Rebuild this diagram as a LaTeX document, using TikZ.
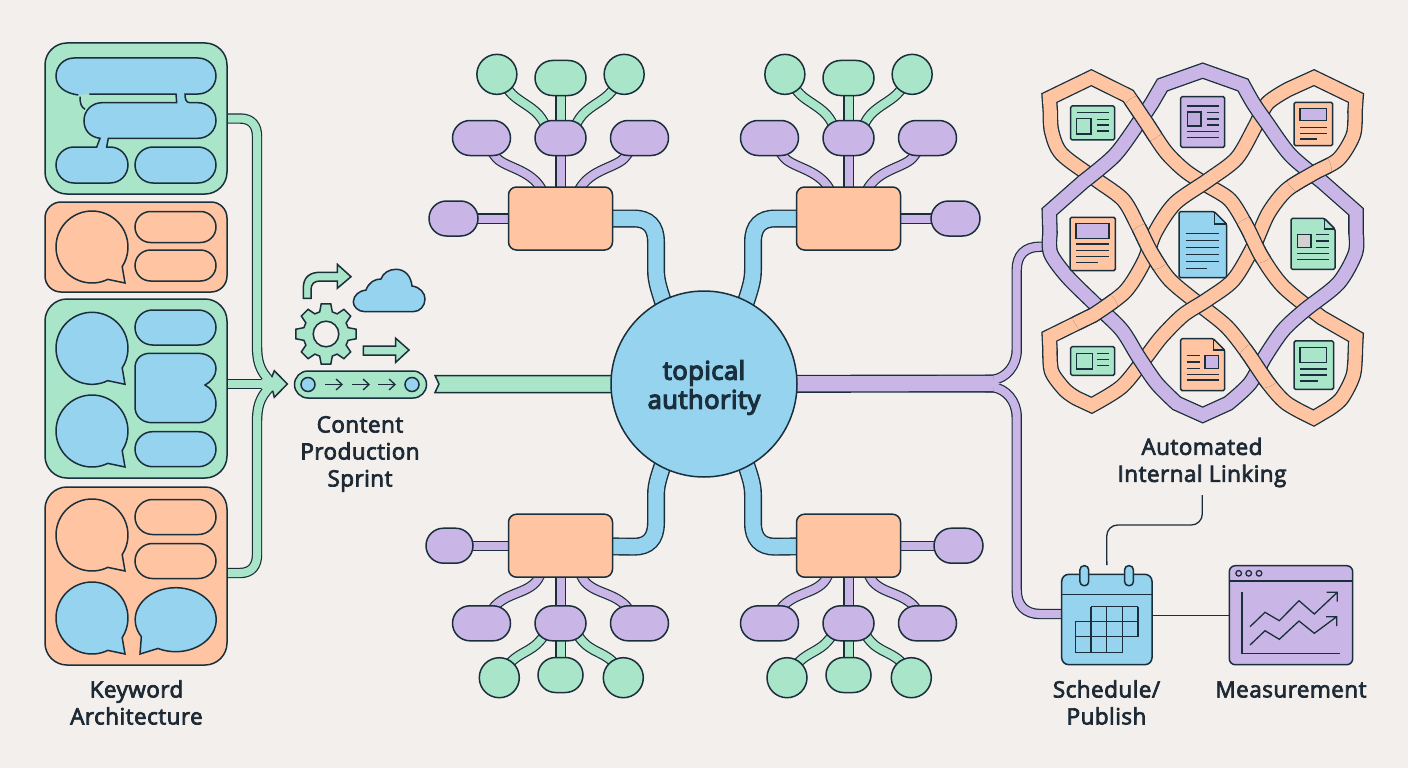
\documentclass[tikz,border=0pt]{standalone}
\usepackage{fontspec}
\setmainfont[FakeBold=3.2,LetterSpace=2]{Open Sans}
\newfontfamily\corefont[FakeBold=5,LetterSpace=2]{Open Sans}
\usetikzlibrary{arrows.meta,shapes.misc}

\definecolor{paper}{HTML}{F2EFEC}
\definecolor{ink}{HTML}{1A2F3B}
\definecolor{inktext}{HTML}{1D2A35}
\definecolor{mint}{HTML}{A9E6C9}
\definecolor{sky}{HTML}{95D3EF}
\definecolor{peach}{HTML}{FFC4A2}
\definecolor{lilac}{HTML}{C9B6E6}
\definecolor{deeplilac}{HTML}{BFABDD}
\definecolor{smoke}{HTML}{D3D0CF}

\pgfdeclarelayer{backdrop}
\pgfdeclarelayer{tubes}
\pgfsetlayers{backdrop,tubes,main}

% speech bubble: x, y, fill
\newcommand{\talkbubble}[3]{
  \draw[outline, fill=#3] (#1,#2) ++(64:36) arc[start angle=64, end angle=393, radius=36]
    -- (#1+33,#2+36) -- cycle;
}
% a band lies on top at one crossing: band, x, y
\newcommand{\overcross}[3]{
  \begin{scope}
    \clip (#2,#3) circle (70);
    \draw[ribbon=peach, #1];
  \end{scope}
}

\tikzset{
  outline/.style={draw=ink, line width=1.5pt},
  tube/.style={draw=ink, line width=1.2pt, double=#1, double distance=8pt},
  wide tube/.style={tube=#1, line width=1.4pt, double distance=15.2pt},
  ribbon/.style={draw=ink, line width=1.3pt, double=#1, double distance=13pt},
  sheet/.style={outline, rounded corners=1.5pt},
  rule/.style={draw=ink, line width=1.3pt},
  panel node/.style={outline, rectangle, inner sep=0pt, minimum width=182pt, rounded corners=#1},
  pill node/.style={outline, rounded rectangle, inner sep=0pt, minimum height=35pt, fill=#1},
  leaf node/.style={pill node=lilac, minimum width=58pt},
  hub node/.style={outline, fill=peach, rectangle, rounded corners=8pt, inner sep=0pt, minimum width=104pt, minimum height=63pt},
  ball node/.style={outline, circle, fill=mint, inner sep=0pt, minimum size=40pt},
  ring node/.style={outline, rectangle, rounded corners=4pt, fill=sky, inner sep=0pt, minimum width=8.7pt, minimum height=20pt},
  dot node/.style={rule, circle, inner sep=0pt, minimum size=5.6pt},
  caption node/.style={align=center, text=inktext},
  % the three closed bands of the link mesh
  band one/.style={insert path={(214,83) -- (88,144) -- plot[smooth] coordinates {(91,185) (95,245) (125,312) (230,390) (310,450) (355,530) (395,610) (450,690) (540,765) (620,830) (680,905) (745,1000) (800,1060) (881,1104)}
    -- plot[smooth] coordinates {(925,1078) (965,1045) (1000,975) (1006,900)} -- (1008,862)
    -- plot[smooth] coordinates {(905,803) (790,710) (725,620) (680,530) (630,450) (560,405) (495,362) (437,305) (380,220) (325,138)} -- cycle}},
  band two/.style={insert path={(882,83) -- (1008,144) -- plot[smooth] coordinates {(1005,185) (1000,255) (955,328) (880,370) (800,420) (745,490) (700,590) (640,690) (560,750) (490,795) (425,860) (375,925) (305,1010) (215,1066)}
    -- plot[smooth] coordinates {(170,1045) (135,1020) (95,965) (90,900)} -- (88,860)
    -- plot[smooth] coordinates {(220,795) (315,725) (372,635) (405,548) (465,460) (565,390) (650,325) (705,230) (742,160) (805,118)} -- cycle}},
  band three/.style={insert path={(548,62) -- (427,105) -- plot[smooth] coordinates {(395,160) (358,215) (285,315) (190,395)} -- (88,485)
    -- plot[smooth] coordinates {(90,550) (92,610) (142,680) (228,765) (305,840) (355,920) (410,1000) (470,1060)} -- (548,1095)
    -- plot[smooth] coordinates {(625,1060) (690,1000) (735,920) (790,840) (855,780) (955,700) (1006,610) (1008,550)} -- (1008,485)
    -- plot[smooth] coordinates {(906,395) (811,315) (738,215) (700,160) (669,105)} -- cycle}}
}

\begin{document}
\begin{tikzpicture}[x=1pt, y=-1pt]
  \tikzstyle{every node}=[font=\fontsize{22.5}{27}\selectfont]

  \useasboundingbox (0,0) rectangle (1408,768);
  \begin{pgfonlayer}{backdrop}
    \fill[paper] (0,0) rectangle (1408,768);
  \end{pgfonlayer}

  % keyword panels
  \node[panel node=22pt, fill=mint, minimum height=151pt] (panela) at (136,118.5) {};
  \node[panel node=16pt, fill=peach, minimum height=90pt] (panelb) at (136,247) {};
  \node[panel node=22pt, fill=mint, minimum height=179pt] (panelc) at (136,388.5) {};
  \node[panel node=22pt, fill=peach, minimum height=178pt] (paneld) at (136,576) {};

  \draw[outline, fill=sky] (89.3,94) -- (176,94) -- (176.7,102.7) -- (102,102.7)
    .. controls (92,102.7) and (84,110.5) .. (84,120.5) .. controls (84,130.5) and (90,137) .. (100,138.3)
    -- (96.7,147) -- (74,147) .. controls (64,147) and (56,155) .. (56,165) .. controls (56,175) and (64,183) .. (74,183)
    -- (110,183) .. controls (120,183) and (128,175) .. (128,165) .. controls (128,155) and (120,147) .. (110,147)
    -- (106.7,147) -- (108.3,138.3) -- (198,138.3) .. controls (208,138.3) and (216,130.5) .. (216,120.5)
    .. controls (216,110.5) and (208,102.7) .. (198,102.7) -- (190,102.7) .. controls (186,102.7) and (185,99) .. (185,94)
    -- (198,94) .. controls (208,94) and (216,86) .. (216,76) .. controls (216,66) and (208,58) .. (198,58)
    -- (74,58) .. controls (64,58) and (56,66) .. (56,76) .. controls (56,86) and (64,93) .. (78.3,95);
  \draw[outline] (80,96.7) .. controls (80,103) and (81,107) .. (85,109.3);
  \node[pill node=sky, minimum width=81pt, minimum height=36pt] (pilld) at (175.5,165) {};

  \talkbubble{92}{247}{peach}
  \node[pill node=peach, minimum width=81pt, minimum height=31pt] (pille) at (175.5,227) {};
  \node[pill node=peach, minimum width=81pt, minimum height=31pt] (pillf) at (175.5,265.5) {};

  \talkbubble{92}{348.3}{sky}
  \talkbubble{92}{431}{sky}
  \node[pill node=sky, minimum width=81pt] (pillg) at (175.5,327.5) {};
  \draw[outline, fill=sky] (135,368) .. controls (135,359) and (141,353.3) .. (150,353.3) -- (198,353.3)
    .. controls (209,353.3) and (216,360) .. (216,369) .. controls (216,376) and (211,382) .. (205,385)
    .. controls (211,388) and (216,395) .. (216,404) .. controls (216,415) and (208,422.7) .. (198,422.7)
    -- (152,422.7) .. controls (142,422.7) and (135,416) .. (135,407) -- cycle;
  \node[pill node=sky, minimum width=81pt] (pillh) at (175.5,449.2) {};

  \talkbubble{92}{535}{peach}
  \node[pill node=peach, minimum width=81pt] (pilli) at (175.5,517) {};
  \node[pill node=peach, minimum width=81pt] (pillj) at (175.5,561) {};
  \talkbubble{92}{618}{sky}
  \draw[outline, fill=sky] (175.7,619.7) ++(148:40.5 and 32) arc[start angle=148, end angle=476, x radius=40.5, y radius=32]
    -- (140,654) -- cycle;

  \node[caption node] (keywordlabel) at (136.5,702.5) {Keyword\\Architecture};

  % sprint icons
  \node[pill node=mint, minimum width=132pt, minimum height=27pt] (belt) at (360.5,384.5) {};
  \node[outline, circle, fill=sky, inner sep=0pt, minimum size=14pt] (rollera) at (308,384.5) {};
  \node[outline, circle, fill=sky, inner sep=0pt, minimum size=14pt] (rollerb) at (412,384.5) {};
  \foreach \s in {325,352,378}
    \draw[rule, -{Straight Barb[length=6pt,width=11pt]}] (\s,384.5) -- (\s+18,384.5);

  \draw[outline, fill=mint] (303.3,298.3) -- (303.3,288) .. controls (303.3,277) and (310,272.3) .. (320,272.3)
    -- (337.3,272.3) -- (337.3,264.3) -- (351,276.7) -- (337.3,288.3) -- (337.3,281) -- (320,281)
    .. controls (314,281) and (311,284) .. (311,290) -- (311,298.3) -- cycle;
  \draw[outline, fill=sky] (365,311.7) .. controls (358,311.7) and (353.3,306.5) .. (353.3,302)
    .. controls (353.3,295) and (360,290.5) .. (366,290) .. controls (369,282) and (375,279) .. (381,279)
    .. controls (383,273) and (389,269.3) .. (396,269.3) .. controls (405,269.3) and (411,276) .. (412,286)
    .. controls (420,287) and (425,293) .. (425,299) .. controls (425,306) and (420,311.7) .. (413,311.7) -- cycle;
  \draw[outline, fill=mint] (363.3,346) -- (395.7,346) -- (395.7,338.3) -- (409,350) -- (395.7,362.3) -- (395.7,355) -- (363.3,355) -- cycle;
  \begin{scope}[shift={(326,334)}]
    \draw[outline, fill=mint] (-16:23) \foreach \a in {0,45,...,315} { -- (\a-16:23) -- (\a-9:30.5) -- (\a+9:30.5) -- (\a+16:23) } -- cycle;
  \end{scope}
  \node[outline, circle, fill=paper, inner sep=0pt, minimum size=25.6pt] (gearhole) at (326,334) {};

  \node[caption node] (sprintlabel) at (360,454) {Content\\Production\\Sprint};

  % centre
  \node[outline, circle, fill=sky, inner sep=0pt, minimum size=186pt] (core) at (704,384) {};
  \node[align=center, text=ink, font=\fontsize{25.5}{29}\corefont] (corelabel) at (704,387.5) {topical\\authority};

  % north west tree
  \node[hub node] (hubnw) at (560.5,218.5) {};
  \node[leaf node, minimum width=49pt] (nwfar) [node distance=107pt, left of=hubnw] {};
  \node[leaf node, minimum width=51pt] (nwmid) [node distance=80.5pt, above of=hubnw] {};
  \node[leaf node] (nwleft) [node distance=79pt, left of=nwmid] {};
  \node[leaf node] (nwright) [node distance=79pt, right of=nwmid] {};
  \node[pill node=mint, minimum width=51pt] (nwtop) [node distance=60pt, above of=nwmid] {};
  \node[ball node] (nwballa) [node distance=90pt, above left of=nwmid] {};
  \node[ball node] (nwballb) [node distance=90pt, above right of=nwmid] {};

  % north east tree
  \node[hub node] (hubne) at (848.5,218.5) {};
  \node[leaf node, minimum width=49pt] (nefar) [node distance=107pt, right of=hubne] {};
  \node[leaf node, minimum width=51pt] (nemid) [node distance=80.5pt, above of=hubne] {};
  \node[leaf node] (neleft) [node distance=79pt, left of=nemid] {};
  \node[leaf node] (neright) [node distance=79pt, right of=nemid] {};
  \node[pill node=mint, minimum width=51pt] (netop) [node distance=60pt, above of=nemid] {};
  \node[ball node] (neballa) [node distance=90pt, above left of=nemid] {};
  \node[ball node] (neballb) [node distance=90pt, above right of=nemid] {};

  % south west tree
  \node[hub node] (hubsw) at (560.5,545.7) {};
  \node[leaf node, minimum width=47pt] (swfar) [node distance=111pt, left of=hubsw] {};
  \node[leaf node, minimum width=51pt] (swmid) [node distance=77.6pt, below of=hubsw] {};
  \node[leaf node] (swleft) [node distance=79pt, left of=swmid] {};
  \node[leaf node] (swright) [node distance=79pt, right of=swmid] {};
  \node[pill node=mint, minimum width=45pt] (swtop) [node distance=51.7pt, below of=swmid] {};
  \node[ball node] (swballa) at (499.3,677.7) {};
  \node[ball node] (swballb) at (623.3,677.7) {};

  % south east tree
  \node[hub node] (hubse) at (848.5,545.7) {};
  \node[leaf node, minimum width=49pt] (sefar) [node distance=110pt, right of=hubse] {};
  \node[leaf node, minimum width=51pt] (semid) [node distance=77.6pt, below of=hubse] {};
  \node[leaf node] (seleft) [node distance=79pt, left of=semid] {};
  \node[leaf node] (seright) [node distance=79pt, right of=semid] {};
  \node[pill node=mint, minimum width=45pt] (setop) [node distance=51.7pt, below of=semid] {};
  \node[ball node] (seballa) at (787,677.7) {};
  \node[ball node] (seballb) at (911.3,677.7) {};

  % link mesh, coordinates are thirds of a pixel
  \begin{scope}[shift={(1020,50)}, x=0.33333pt, y=-0.33333pt]
    \draw[ribbon=peach, band one];
    \draw[ribbon=peach, band two];
    \draw[ribbon=lilac, band three];
    \overcross{band one}{370}{205}
    \overcross{band one}{722}{945}
    \overcross{band one}{390}{590}
    \overcross{band one}{705}{570}
    \overcross{band two}{865}{365}
    \overcross{band two}{225}{785}

    \draw[sheet, fill=mint] (152,168) rectangle (284,270);
    \draw[rule, fill=mint] (170,205) rectangle (213,252);
    \draw[rule] (170,188) -- (268,188) (230,208) -- (268,208) (230,225) -- (268,225) (230,243) -- (268,243);

    \draw[sheet, fill=lilac] (482,140) rectangle (614,292);
    \draw[rule, fill=deeplilac] (502,186) rectangle (543,228);
    \draw[rule] (502,168) -- (596,168) (560,188) -- (596,188) (560,207) -- (596,207) (560,225) -- (596,225) (502,244) -- (596,244) (502,262) -- (596,262);

    \draw[sheet, fill=peach] (822,157) rectangle (938,287);
    \draw[rule, fill=lilac] (840,176) rectangle (920,212);
    \draw[rule] (840,232) -- (920,232) (840,250) -- (920,250) (840,267) -- (890,267);

    \draw[sheet, fill=peach] (150,502) rectangle (286,662);
    \draw[rule, fill=lilac] (168,520) rectangle (267,565);
    \draw[rule] (168,582) -- (268,582) (168,601) -- (268,601) (168,620) -- (268,620) (168,637) -- (233,637);

    \draw[sheet, fill=sky] (477,485) -- (583,485) -- (620,522) -- (620,683) -- (477,683) -- cycle;
    \draw[rule] (583,485) -- (583,522) -- (620,522);
    \draw[rule] (497,550) -- (598,550) (497,572) -- (598,572) (497,593) -- (598,593) (497,614) -- (598,614) (497,634) -- (598,634) (497,655) -- (560,655);

    \draw[sheet, fill=mint] (813,505) -- (913,505) -- (945,537) -- (945,658) -- (813,658) -- cycle;
    \draw[rule] (913,505) -- (913,537) -- (945,537);
    \draw[rule, fill=smoke] (832,553) rectangle (873,593);
    \draw[rule] (887,553) -- (927,553) (887,573) -- (927,573) (887,592) -- (927,592) (832,610) -- (927,610) (832,628) -- (927,628);

    \draw[sheet, fill=mint] (152,890) rectangle (284,976);
    \draw[rule, fill=mint] (170,910) rectangle (217,957);
    \draw[rule] (232,910) -- (268,910) (232,928) -- (268,928) (232,947) -- (268,947);

    \draw[sheet, fill=peach] (482,866) -- (580,866) -- (614,900) -- (614,1022) -- (482,1022) -- cycle;
    \draw[rule] (580,866) -- (580,900) -- (614,900);
    \draw[rule, fill=lilac] (555,916) rectangle (596,956);
    \draw[rule] (500,917) -- (540,917) (500,936) -- (540,936) (500,955) -- (540,955) (500,973) -- (596,973) (500,990) -- (596,990);

    \draw[sheet, fill=mint] (822,873) rectangle (941,1018);
    \draw[rule, fill=mint] (840,892) rectangle (920,937);
    \draw[rule] (840,957) -- (921,957) (840,975) -- (921,975) (840,993) -- (893,993);
  \end{scope}
  \coordinate (meshin) at (1047,246.7);

  \node[caption node] (linklabel) at (1202,462.5) {Automated\\Internal Linking};

  % calendar and chart
  \node[outline, rectangle, rounded corners=7pt, fill=sky, inner sep=0pt, minimum size=90.3pt] (sched) at (1106.85,619.5) {};
  \draw[rule] (sched.west |- 0,594.3) -- (sched.east |- 0,594.3);
  \node[ring node] (ringa) at (1084.3,575.7) {};
  \node[ring node] (ringb) at (1129,575.7) {};
  \draw[rule] (1091,606.7) -- (1138,606.7) (1075.3,621.7) -- (1138,621.7) (1075.3,636.7) -- (1138,636.7) (1075.3,652.7) -- (1122.3,652.7)
    (1075.3,621.7) -- (1075.3,652.7) (1091,606.7) -- (1091,652.7) (1106.7,606.7) -- (1106.7,652.7) (1122.3,606.7) -- (1122.3,652.7) (1138,606.7) -- (1138,636.7);

  \node[outline, rectangle, rounded corners=6pt, fill=lilac, inner sep=0pt, minimum width=123.4pt, minimum height=99pt] (meas) at (1291,615.2) {};
  \draw[rule] (meas.west |- 0,581) -- (meas.east |- 0,581);
  \node[dot node] (dota) at (1238.7,573.3) {};
  \node[dot node] (dotb) at (1248.7,573.3) {};
  \node[dot node] (dotc) at (1259,573.3) {};
  \draw[draw=ink, line width=1.6pt] (1241.7,591.7) -- (1241.7,653.3) -- (1340,653.3);
  \draw[rule] (1250,626.7) -- (1265,612.3) -- (1279.3,620.7) -- (1299,600.7) -- (1314.3,614) -- (1337.3,592.3)
    (1326.7,592.3) -- (1337.3,592.3) -- (1337.3,601.7);
  \draw[rule] (1250,645) -- (1265,630.7) -- (1279.3,639.3) -- (1299,621) -- (1314.3,633.3) -- (1336.7,616.7)
    (1326,616.7) -- (1336.7,616.7) -- (1336.7,626);

  \node[caption node] (schedlabel) at (1106.5,702.5) {Schedule/\\Publish};
  \node[caption node] (measlabel) at (1291,689.5) {Measurement};

  % thin connectors
  \coordinate (linkfoot) at (1202.3,495);
  \draw[rule, rounded corners=11pt] (linkfoot) -- (1202.3,525) -- (1106.7,525) -- ([yshift=8.5pt]sched.north);
  \draw[rule] (sched.east |- meas.west) -- (meas.west);

  % tubes sit under the nodes
  \coordinate (merge) at (266,384);
  \begin{pgfonlayer}{tubes}
    \draw[tube=mint] (panela.center) -- (240,118.5) .. controls (252,118.5) and (257,126) .. (257,136) -- (257,345) .. controls (257,360) and (259,370) .. (270,381);
    \draw[tube=mint] ([yshift=3pt]paneld.center) -- (240,573) .. controls (252,573) and (257,565) .. (257,555) -- (257,423) .. controls (257,408) and (259,398) .. (270,387);
    \draw[tube=mint] (merge -| panelc.center) -- (merge);

    \draw[outline, fill=mint] (435,375.5) -- (core.center |- 0,375.5) -- (core.center |- 0,392.5) -- (435,392.5) -- (439,384) -- cycle;

    \draw[wide tube=sky] (hubnw.center) -- (634,218.5) .. controls (648,218.5) and (656,226) .. (656,242) -- (656,270) .. controls (656,282) and (660,292) .. (665,308) -- (core.center);
    \draw[wide tube=sky] (hubne.center) -- (775,218.5) .. controls (761,218.5) and (753,226) .. (753,242) -- (753,270) .. controls (753,282) and (749,292) .. (744,308) -- (core.center);
    \draw[wide tube=sky] (hubsw.center) -- (634,546.7) .. controls (648,546.7) and (656,539) .. (656,523) -- (656,495) .. controls (656,483) and (660,474) .. (665,458) -- (core.center);
    \draw[wide tube=sky] (hubse.center) -- (775,546.7) .. controls (761,546.7) and (753,539) .. (753,523) -- (753,495) .. controls (753,483) and (749,474) .. (744,458) -- (core.center);

    \draw[tube=lilac] (nwfar.center) -- (hubnw.center);
    \draw[tube=lilac] (nwmid.center) -- (hubnw.center);
    \draw[tube=lilac] (nwleft.center) -- (495,156) .. controls (503,168) and (530,168) .. (542,190);
    \draw[tube=lilac] (nwright.center) -- (626,156) .. controls (618,168) and (591,168) .. (579,190);
    \draw[tube=mint] (nwtop.center) -- (nwmid.center);
    \draw[tube=mint] (nwballa.center) -- (510,92) .. controls (520,104) and (540,108) .. (546,128);
    \draw[tube=mint] (nwballb.center) -- (611,92) .. controls (601,104) and (581,108) .. (575,128);

    \draw[tube=lilac] (nefar.center) -- (hubne.center);
    \draw[tube=lilac] (nemid.center) -- (hubne.center);
    \draw[tube=lilac] (neleft.center) -- (783,156) .. controls (791,168) and (818,168) .. (830,190);
    \draw[tube=lilac] (neright.center) -- (914,156) .. controls (906,168) and (879,168) .. (867,190);
    \draw[tube=mint] (netop.center) -- (nemid.center);
    \draw[tube=mint] (neballa.center) -- (798,92) .. controls (808,104) and (828,108) .. (834,128);
    \draw[tube=mint] (neballb.center) -- (899,92) .. controls (889,104) and (869,108) .. (863,128);

    \draw[tube=lilac] (swfar.center) -- (hubsw.center);
    \draw[tube=lilac] (swmid.center) -- (hubsw.center);
    \draw[tube=lilac] (swleft.center) -- (495,606) .. controls (510,590) and (535,594) .. (541,572);
    \draw[tube=lilac] (swright.center) -- (626,606) .. controls (611,590) and (586,594) .. (580,572);
    \draw[tube=mint] (swtop.center) -- (swmid.center);
    \draw[tube=mint] (swballa.center) -- (510,663) .. controls (522,650) and (535,652) .. (546,632);
    \draw[tube=mint] (swballb.center) -- (612,661) .. controls (600,650) and (587,652) .. (576,632);

    \draw[tube=lilac] (sefar.center) -- (hubse.center);
    \draw[tube=lilac] (semid.center) -- (hubse.center);
    \draw[tube=lilac] (seleft.center) -- (783,606) .. controls (798,590) and (823,594) .. (829,572);
    \draw[tube=lilac] (seright.center) -- (914,606) .. controls (899,590) and (874,594) .. (868,572);
    \draw[tube=mint] (setop.center) -- (semid.center);
    \draw[tube=mint] (seballa.center) -- (798,663) .. controls (810,650) and (823,652) .. (834,632);
    \draw[tube=mint] (seballb.center) -- (900,661) .. controls (888,650) and (875,652) .. (864,632);

    \draw[tube=lilac] (985,379.8) -- (993,379.8) .. controls (1006,378) and (1016.7,366) .. (1016.7,350) -- (1016.7,270) .. controls (1016.7,255) and (1025,246.7) .. (1040,246.7) -- (meshin);
    \draw[tube=lilac] (985,387.2) -- (993,387.2) .. controls (1006,389) and (1016.7,401) .. (1016.7,417) -- (1016.7,590) .. controls (1016.7,605) and (1025,614) .. (1040,614) -- ([yshift=5.5pt]sched.center);
    \draw[wide tube=lilac] (core.center) -- (993,383.5);
    \fill[lilac] (989,377) -- (1000,383.5) -- (989,390) -- cycle;
  \end{pgfonlayer}

  % head of the three merged tubes
  \fill[mint] (261.7,379.3) -- (271.7,377.3) -- (274.3,370.7) -- (287.3,384) -- (274.3,397.3) -- (272.7,390.7) -- (261.7,389) -- cycle;
  \draw[outline] (271.7,377.3) -- (274.3,370.7) -- (287.3,384) -- (274.3,397.3) -- (272.7,390.7);
\end{tikzpicture}
\end{document}
